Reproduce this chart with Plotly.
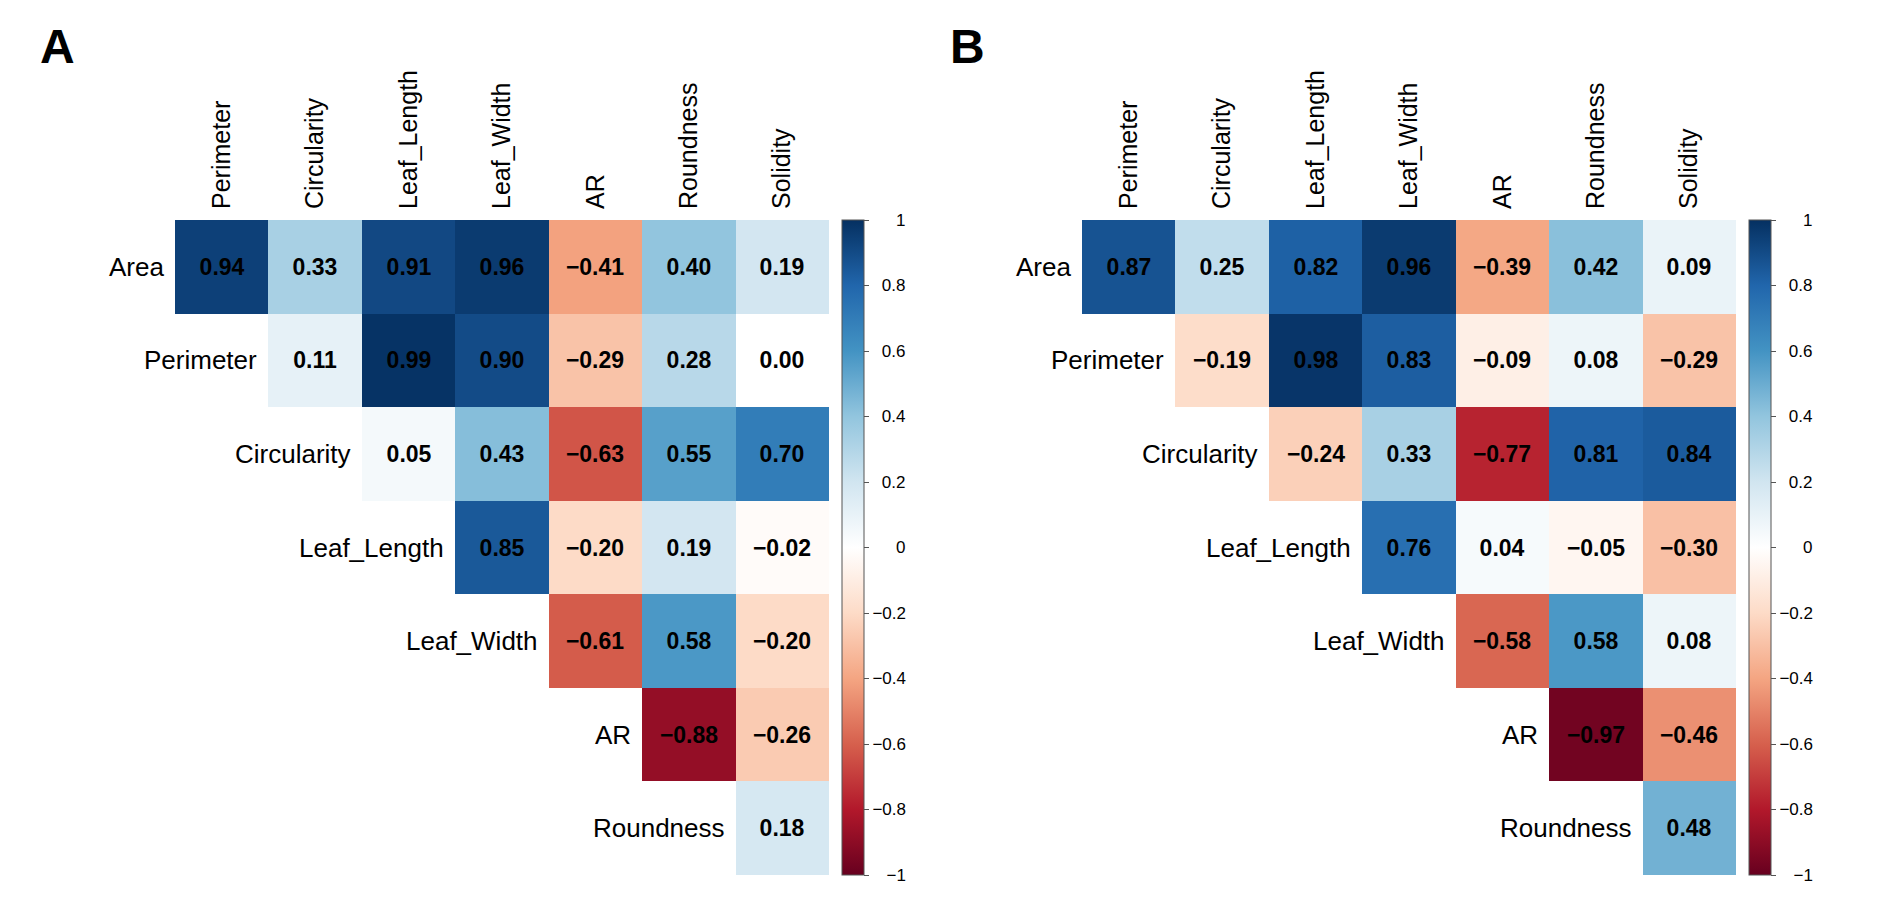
import numpy as np
import plotly.graph_objects as go
from plotly.subplots import make_subplots

# variables of the correlation matrix
row_vars = ["Area", "Perimeter", "Circularity", "Leaf_Length",
            "Leaf_Width", "AR", "Roundness"]
col_vars = ["Perimeter", "Circularity", "Leaf_Length", "Leaf_Width",
            "AR", "Roundness", "Solidity"]

# upper triangle, one list per row (starting at the diagonal cell)
corr_a = [
    [0.94, 0.33, 0.91, 0.96, -0.41, 0.40, 0.19],
    [0.11, 0.99, 0.90, -0.29, 0.28, 0.00],
    [0.05, 0.43, -0.63, 0.55, 0.70],
    [0.85, -0.20, 0.19, -0.02],
    [-0.61, 0.58, -0.20],
    [-0.88, -0.26],
    [0.18],
]
corr_b = [
    [0.87, 0.25, 0.82, 0.96, -0.39, 0.42, 0.09],
    [-0.19, 0.98, 0.83, -0.09, 0.08, -0.29],
    [-0.24, 0.33, -0.77, 0.81, 0.84],
    [0.76, 0.04, -0.05, -0.30],
    [-0.58, 0.58, 0.08],
    [-0.97, -0.46],
    [0.48],
]

cbar_vals = [1, 0.8, 0.6, 0.4, 0.2, 0, -0.2, -0.4, -0.6, -0.8, -1]
cbar_text = ["1", "0.8", "0.6", "0.4", "0.2", "0",
             "\u22120.2", "\u22120.4", "\u22120.6", "\u22120.8", "\u22121"]

panel_letters = ["A", "B"]

# matplotlib-like RdBu (ColorBrewer), white centre
rdbu = ["#67001f", "#b2182b", "#d6604d", "#f4a582", "#fddbc7", "#ffffff",
        "#d1e5f0", "#92c5de", "#4393c3", "#2166ac", "#053061"]
colorscale = [[i / 10, c] for i, c in enumerate(rdbu)]

# page is 1902x910; the html body has an 8px margin, so the figure is
# shrunk by that and all page-pixel positions are shifted by it
PAGE_W, PAGE_H, OFF = 1902, 910, 8
W, H = PAGE_W - 2 * OFF, PAGE_H - 2 * OFF
FONT = "Liberation Sans, Arial, sans-serif"


def px_x(x):
    return (x - OFF) / W


def px_y(y):
    return 1 - (y - OFF) / H


def to_grid(tri):
    """Fill the triangular lists into a square grid (NaN below diagonal)."""
    n = len(tri)
    z = np.full((n, n), np.nan)
    txt = [["" for _ in range(n)] for _ in range(n)]
    for i, row in enumerate(tri):
        for k, v in enumerate(row):
            z[i, i + k] = v
            txt[i][i + k] = f"{v:.2f}".replace("-", "\u2212")
    return z, txt


def right_align(labels):
    """Pad colorbar labels with no-break spaces so they end flush right."""
    em = {".": 0.278, "\u2212": 0.584}
    widths = [sum(em.get(c, 0.556) for c in s) for s in labels]
    wmax = max(widths)
    return ["\u00a0" * round((wmax - w) / 0.278) + s
            for s, w in zip(labels, widths)]


fig = make_subplots(rows=1, cols=2)

# page-pixel layout of the two panels
heat_x = [(175, 829), (1082, 1736)]
heat_y = (220, 875)
cbar_left = [842, 1749]

y_dom = [px_y(heat_y[1]), px_y(heat_y[0])]

for p, tri in enumerate([corr_a, corr_b]):
    z, txt = to_grid(tri)
    fig.add_trace(go.Heatmap(
        z=z, x=col_vars, y=row_vars, text=txt,
        texttemplate="%{text}",
        textfont=dict(family=FONT, size=23, color="black", weight="bold"),
        colorscale=colorscale, zmin=-1, zmax=1,
        hoverongaps=False,
        colorbar=dict(
            x=px_x(cbar_left[p]), xanchor="left", xpad=0, ypad=0,
            y=sum(y_dom) / 2, yanchor="middle",
            len=y_dom[1] - y_dom[0], lenmode="fraction",
            thickness=22, outlinewidth=1, outlinecolor="#555",
            tickvals=cbar_vals, ticktext=right_align(cbar_text),
            ticks="outside", ticklen=5, tickcolor="#555",
            tickfont=dict(family=FONT, size=17, color="black"),
        ),
    ), row=1, col=p + 1)

    ax = "" if p == 0 else "2"
    fig.update_layout({
        f"xaxis{ax}": dict(
            domain=[px_x(heat_x[p][0]), px_x(heat_x[p][1])],
            side="top", tickangle=-90, showgrid=False, zeroline=False,
            ticks="", ticklabelstandoff=10, range=[-0.5, 6.5],
            tickfont=dict(family=FONT, size=25, color="black"),
        ),
        f"yaxis{ax}": dict(
            domain=y_dom, range=[6.5, -0.5], showgrid=False,
            zeroline=False, showticklabels=False, ticks="",
        ),
    })

    # row labels sit just left of the first cell of each row
    for i, name in enumerate(row_vars):
        fig.add_annotation(
            x=i - 0.5, y=name, xref=f"x{ax}", yref=f"y{ax}",
            text=name, showarrow=False, xanchor="right", yanchor="middle",
            xshift=-9, font=dict(family=FONT, size=26, color="black"),
        )

# panel letters
for p, (lx, ly) in enumerate([(57, 47), (967, 47)]):
    fig.add_annotation(
        x=px_x(lx), y=px_y(ly), xref="paper", yref="paper",
        text=f"<b>{panel_letters[p]}</b>", showarrow=False,
        xanchor="center", yanchor="middle",
        font=dict(family=FONT, size=48, color="black"),
    )

fig.update_layout(
    width=W, height=H,
    margin=dict(l=0, r=0, t=0, b=0),
    paper_bgcolor="white", plot_bgcolor="white",
    font=dict(family=FONT, color="black"),
)

fig.write_html("out.html")
